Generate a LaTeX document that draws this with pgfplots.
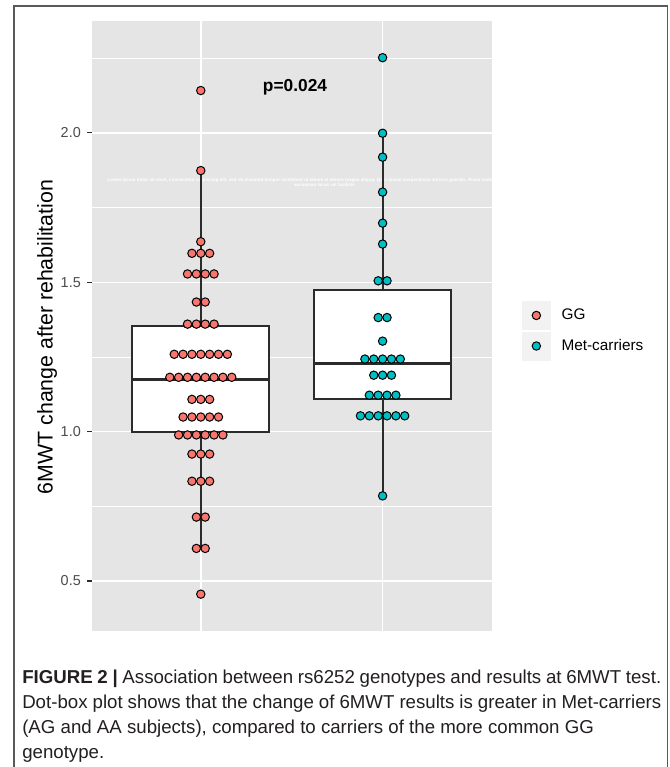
\documentclass[border=0pt]{standalone}
\usepackage{fontspec}
\setmainfont{Liberation Sans}
\usepackage{pgfplots}
\usepackage{pgfplotstable}
\pgfplotsset{compat=1.18}
\usepgfplotslibrary{statistics}
\definecolor{ggred}{HTML}{F8766D}
\definecolor{ggcyan}{HTML}{00BFC4}
\definecolor{panelbg}{HTML}{E5E5E5}
\definecolor{keybg}{HTML}{F2F2F2}
\definecolor{boxline}{HTML}{2B2B2B}
\definecolor{captxt}{HTML}{231F20}

\pgfplotstableread{
x y
1.0000 2.142
1.0000 1.874
1.0000 1.636
0.9513 1.597
1.0000 1.597
1.0487 1.597
0.9270 1.528
0.9757 1.528
1.0243 1.528
1.0730 1.528
0.9757 1.434
1.0243 1.434
0.9270 1.360
0.9757 1.360
1.0243 1.360
1.0730 1.360
0.8539 1.259
0.9026 1.259
0.9513 1.259
1.0000 1.259
1.0487 1.259
1.0974 1.259
1.1461 1.259
0.8296 1.182
0.8783 1.182
0.9270 1.182
0.9757 1.182
1.0243 1.182
1.0730 1.182
1.1217 1.182
1.1704 1.182
0.9513 1.108
1.0000 1.108
1.0487 1.108
0.9026 1.049
0.9513 1.049
1.0000 1.049
1.0487 1.049
1.0974 1.049
0.8783 0.989
0.9270 0.989
0.9757 0.989
1.0243 0.989
1.0730 0.989
1.1217 0.989
0.9513 0.925
1.0000 0.925
1.0487 0.925
0.9513 0.834
1.0000 0.834
1.0487 0.834
0.9757 0.714
1.0243 0.714
0.9757 0.609
1.0243 0.609
1.0000 0.456
}\ggdata

\pgfplotstableread{
x y
2.0000 2.252
2.0000 1.999
2.0000 1.919
2.0000 1.802
2.0000 1.698
2.0000 1.628
1.9757 1.505
2.0243 1.505
1.9757 1.382
2.0243 1.382
2.0000 1.303
1.9026 1.243
1.9513 1.243
2.0000 1.243
2.0487 1.243
2.0974 1.243
1.9513 1.189
2.0000 1.189
2.0487 1.189
1.9270 1.122
1.9757 1.122
2.0243 1.122
2.0730 1.122
1.8783 1.053
1.9270 1.053
1.9757 1.053
2.0243 1.053
2.0730 1.053
2.1217 1.053
2.0000 0.785
}\metdata

\begin{document}
\begin{tikzpicture}
\useasboundingbox (0,0) rectangle (502.5pt,-575.25pt);
\fill[white] (0,0) rectangle (502.5pt,-575.25pt);
\begin{axis}[
  at={(68.775pt,-473.025pt)}, anchor=south west,
  scale only axis, width=300pt, height=457.275pt,
  xmin=0.4, xmax=2.6, ymin=0.3336, ymax=2.3748,
  axis background/.style={fill=panelbg},
  axis line style={draw=none},
  xtick={1,2}, xticklabels={}, xtick style={draw=none},
  ytick={0.5,1,1.5,2}, yticklabels={0.5,1.0,1.5,2.0},
  minor ytick={0.75,1.25,1.75,2.25},
  xmajorgrids, ymajorgrids, yminorgrids,
  major grid style={white, line width=1.1pt},
  minor grid style={white, line width=0.55pt},
  tick pos=left,
  tick align=outside, major tick length=3.5pt, minor tick length=0pt,
  ytick style={color=boxline, line width=0.8pt},
  yticklabel style={font=\fontsize{10.8}{12}\selectfont, text=black!70, inner sep=0pt, anchor=east, xshift=-4.5pt},
  legend style={at={(1.075,0.492)}, anchor=west, draw=none, fill=none, inner sep=0pt,
    row sep=1.3pt, font=\fontsize{11.5}{13}\selectfont, nodes={inner sep=0pt},
    /tikz/every odd column/.append style={column sep=8.1pt}},
  legend cell align=left,
  legend image code/.code={\fill[keybg] (-10.6pt,-10.6pt) rectangle (10.6pt,10.6pt);
     \draw[#1] plot coordinates {(0pt,0pt)};},
]
\node[font=\bfseries\fontsize{3.4}{4.2}\selectfont, text=white, align=center, inner sep=0pt]
  at (axis cs:1.683,1.834) {Lorem ipsum dolor sit amet, consectetur adipiscing elit, sed do eiusmod tempor incididunt ut labore et dolore magna aliqua. Quis ipsum suspendisse ultrices gravida. Risus commodo viverra maecenas\\accumsan lacus vel facilisis.};
\addplot[forget plot, draw=boxline, line width=1.4pt, fill=white,
  boxplot prepared={draw direction=y, draw position=1, box extend=0.754, whisker extend=0,
    lower whisker=0.609, lower quartile=1.0, median=1.175,
    upper quartile=1.355, upper whisker=1.874,
    every median/.style={line width=2.6pt}}] coordinates {};
\addplot[forget plot, draw=boxline, line width=1.4pt, fill=white,
  boxplot prepared={draw direction=y, draw position=2, box extend=0.754, whisker extend=0,
    lower whisker=0.785, lower quartile=1.108, median=1.229,
    upper quartile=1.474, upper whisker=1.999,
    every median/.style={line width=2.6pt}}] coordinates {};
\addplot[only marks, mark=*, mark size=3.15pt,
  mark options={draw=black, fill=ggred, line width=0.75pt}] table[x=x,y=y] {\ggdata};
\addlegendentry{GG}
\addplot[only marks, mark=*, mark size=3.15pt,
  mark options={draw=black, fill=ggcyan, line width=0.75pt}] table[x=x,y=y] {\metdata};
\addlegendentry{Met-carriers}
\end{axis}
\begin{scope}[x=0.75pt, y=-0.75pt]
  \draw[black!65, line width=1.1pt] (14,767) -- (14,6) -- (667.5,6) -- (667.5,767);
  \node[rotate=90, font=\fontsize{16}{19}\selectfont] at (47,337) {6MWT change after rehabilitation};
  \node[anchor=base, font=\bfseries\fontsize{13}{15}\selectfont] at (295,91.7) {p=0.024};
  \begin{scope}[every node/.style={anchor=base west, inner sep=0pt, text=captxt, font=\fontsize{14}{17}\selectfont}]
    \node at (22,683) {\hbox to 479.25pt{\textbf{FIGURE 2 |} Association between rs6252 genotypes and results at 6MWT test.}};
    \node at (22,708) {\hbox to 479.25pt{Dot-box plot shows that the change of 6MWT results is greater in Met-carriers}};
    \node at (22,733) {(AG and AA subjects), compared to carriers of the more common GG};
    \node at (22,758) {genotype.};
  \end{scope}
\end{scope}
\end{tikzpicture}
\end{document}
